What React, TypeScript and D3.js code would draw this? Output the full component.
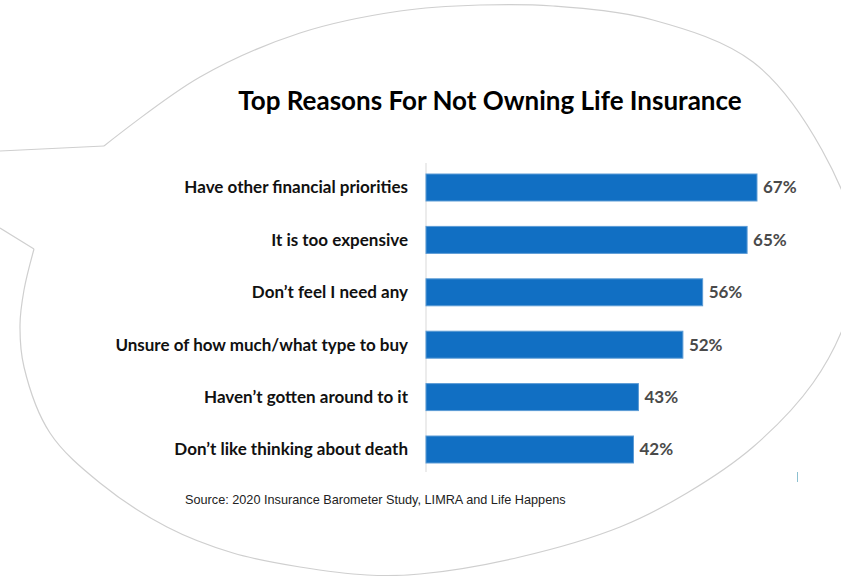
import React from "react";
import * as d3 from "d3";

const categories = [
  "Have other financial priorities",
  "It is too expensive",
  "Don\u2019t feel I need any",
  "Unsure of how much/what type to buy",
  "Haven\u2019t gotten around to it",
  "Don\u2019t like thinking about death",
];
const values = [67, 65, 56, 52, 43, 42];
const title = "Top Reasons For Not Owning Life Insurance";
const source = "Source: 2020 Insurance Barometer Study, LIMRA and  Life Happens";

// decorative speech-bubble outline (not data)
const bubblePts: [number, number][] = [
  [104, 146], [200, 77], [300, 33], [400, 11], [480, 5], [553, 6], [653, 20],
  [753, 62], [822, 150], [860, 255], [846, 320], [813, 383], [753, 447],
  [687, 493], [620, 527], [520, 557], [420, 574], [367, 575], [300, 567],
  [233, 553], [167, 527], [100, 483], [50, 433], [24, 367], [20, 325],
  [24, 290], [34, 249],
];

const W = 841;
const H = 576;

export default function App() {
  const x = d3.scaleLinear().domain([0, 100]).range([426, 920]);
  const y = d3
    .scaleBand<string>()
    .domain(categories)
    .range([163, 474])
    .paddingInner(0.485)
    .paddingOuter(0.21);

  const bubble = d3.line().curve(d3.curveCatmullRom.alpha(0.5))(bubblePts) || "";
  const labelFont = "Lato, 'Open Sans', sans-serif";

  return (
    <svg
      width={W}
      height={H}
      style={{ position: "absolute", left: 0, top: 0, background: "#fff" }}
    >
      <rect x={0} y={0} width={W} height={H} fill="#fff" />
      <path d={bubble} fill="none" stroke="#cfcfcf" strokeWidth={1.2} />
      <line x1={0} y1={151} x2={104} y2={146} stroke="#cfcfcf" strokeWidth={1.2} />
      <line x1={0} y1={228} x2={34} y2={249} stroke="#cfcfcf" strokeWidth={1.2} />
      <line x1={797.5} y1={472} x2={797.5} y2={482} stroke="#8cc0d0" strokeWidth={1} />

      <text
        x={490}
        y={110}
        textAnchor="middle"
        fontFamily={labelFont}
        fontWeight={700}
        fontSize={26}
        fill="#000"
      >
        {title}
      </text>

      <line
        x1={x(0)}
        x2={x(0)}
        y1={163}
        y2={472}
        stroke="#d9d9d9"
        strokeWidth={1}
      />

      {categories.map((c, i) => {
        const yy = y(c)!;
        const bw = y.bandwidth();
        return (
          <g key={c}>
            <rect
              x={x(0)}
              y={yy}
              width={x(values[i]) - x(0)}
              height={bw}
              fill="#116fc3"
              stroke="#5b9bd5"
              strokeWidth={1}
            />
            <text
              x={408}
              y={yy + bw / 2}
              dy="0.35em"
              textAnchor="end"
              fontFamily={labelFont}
              fontWeight={700}
              fontSize={17}
              fill="#111"
            >
              {c}
            </text>
            <text
              x={x(values[i]) + 6}
              y={yy + bw / 2}
              dy="0.35em"
              textAnchor="start"
              fontFamily={labelFont}
              fontWeight={700}
              fontSize={17}
              fill="#4a4a4a"
            >
              {values[i]}%
            </text>
          </g>
        );
      })}

      <text
        x={185}
        y={504}
        fontFamily="'Liberation Sans', Arial, sans-serif"
        fontSize={12.7}
        fill="#222"
      >
        {source}
      </text>
    </svg>
  );
}
